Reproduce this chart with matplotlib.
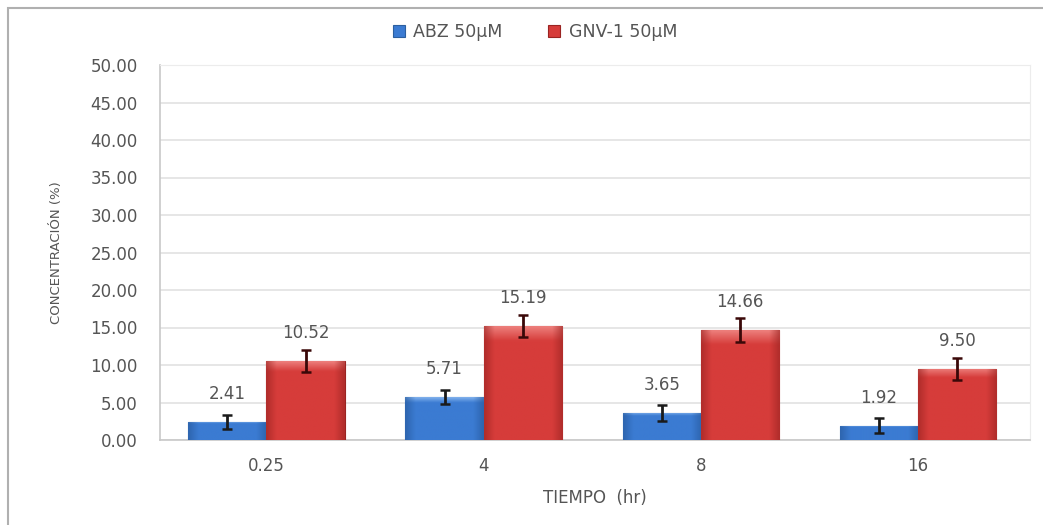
import matplotlib
matplotlib.use('Agg')
import matplotlib.pyplot as plt
from matplotlib.patches import Rectangle
from matplotlib.colors import to_rgb
import numpy as np

# data
tiempos = ['0.25', '4', '8', '16']
abz = [2.41, 5.71, 3.65, 1.92]
gnv = [10.52, 15.19, 14.66, 9.50]
abz_err = [0.95, 0.9, 1.05, 1.0]
gnv_err = [1.5, 1.5, 1.6, 1.45]
series_names = ['ABZ 50\u00b5M', 'GNV-1 50\u00b5M']

plt.rcParams['font.family'] = ['DejaVu Sans']
txt = '#555555'


def shade(ax, bars, base, light, dark):
    # fake the excel gradient: light strip at the top, darker at the edges
    for b in bars:
        x0, y0 = b.get_x(), b.get_y()
        bw, bh = b.get_width(), b.get_height()
        nx, ny = 40, 60
        c0 = np.array(to_rgb(base))
        cl = np.array(to_rgb(light))
        cd = np.array(to_rgb(dark))
        img = np.zeros((ny, nx, 3))
        xs = np.linspace(-1, 1, nx)
        edge = np.clip((np.abs(xs) - 0.75) / 0.25, 0, 1)
        for j in range(ny):
            # j=0 is the top row (origin upper)
            frac = j / (ny - 1)
            topmix = max(0.0, 1 - frac * 8) if bh > 0 else 0
            row = c0 * (1 - topmix) + cl * topmix
            img[j] = row[None, :] * (1 - edge[:, None] * 0.6) + cd[None, :] * (edge[:, None] * 0.6)
        im = ax.imshow(img, extent=[x0, x0 + bw, y0, y0 + bh], origin='upper',
                       aspect='auto', zorder=3, interpolation='bilinear')
        im.set_clip_path(b)


fig = plt.figure(figsize=(10.43, 5.25), dpi=100)
# outer chart frame
fig.patches.append(Rectangle((8 / 1043, -0.1), 1.2, (525 - 8) / 525 + 0.1,
                             transform=fig.transFigure, fill=False,
                             edgecolor='#b0b0b0', linewidth=1.5))

ax = fig.add_axes([160 / 1043, 1 - 440 / 525, 870 / 1043, 375 / 525])
x = np.arange(len(tiempos))
w = 0.36

b1 = ax.bar(x - w / 2, abz, w, color='#3b7bd2', edgecolor='#2c5f9f', linewidth=0.8,
            label=series_names[0], zorder=3)
b2 = ax.bar(x + w / 2, gnv, w, color='#d63c3a', edgecolor='#9a2422', linewidth=0.8,
            label=series_names[1], zorder=3)
shade(ax, b1, '#3b7bd2', '#7fb0ec', '#26589a')
shade(ax, b2, '#d63c3a', '#ec7d7a', '#9a2422')

ax.errorbar(x - w / 2, abz, yerr=abz_err, fmt='none', ecolor='#1a1a1a',
            elinewidth=2.0, capsize=3.5, capthick=1.8, zorder=4)
ax.errorbar(x + w / 2, gnv, yerr=gnv_err, fmt='none', ecolor='#3a0808',
            elinewidth=2.0, capsize=3.5, capthick=1.8, zorder=4)

for xi, v in zip(x - w / 2, abz):
    ax.text(xi, v + 3.7, '%.2f' % v, ha='center', va='center', fontsize=12, color=txt)
for xi, v in zip(x + w / 2, gnv):
    ax.text(xi, v + 3.7, '%.2f' % v, ha='center', va='center', fontsize=12, color=txt)

ax.set_ylim(0, 50)
ax.set_xlim(-0.49, 3.515)
ax.set_yticks(np.arange(0, 50.1, 5))
ax.set_yticklabels(['%.2f' % t for t in np.arange(0, 50.1, 5)])
ax.set_xticks(x)
ax.set_xticklabels(tiempos)
ax.tick_params(axis='both', length=0, labelsize=12, labelcolor=txt)
ax.tick_params(axis='y', pad=16)
ax.tick_params(axis='x', pad=12)
ax.yaxis.grid(True, color='#e2e2e2', linewidth=1.2, zorder=0)
ax.set_axisbelow(True)
for s in ['top', 'right']:
    ax.spines[s].set_color('#ececec')
for s in ['left', 'bottom']:
    ax.spines[s].set_color('#c8c8c8')
    ax.spines[s].set_linewidth(1.2)

ax.set_xlabel('TIEMPO  (hr)', fontsize=12, color=txt, labelpad=10)
ax.set_ylabel('CONCENTRACI\u00d3N (%)', fontsize=9.5, color=txt, labelpad=20)

fig.legend(handles=[b1, b2], loc='center', bbox_to_anchor=(535 / 1043, 1 - 32 / 525),
           ncol=2, frameon=False, fontsize=12.5, handlelength=0.7, handleheight=0.7,
           columnspacing=2.6, handletextpad=0.5, labelcolor=txt)

fig.savefig('out.png', dpi=100)
